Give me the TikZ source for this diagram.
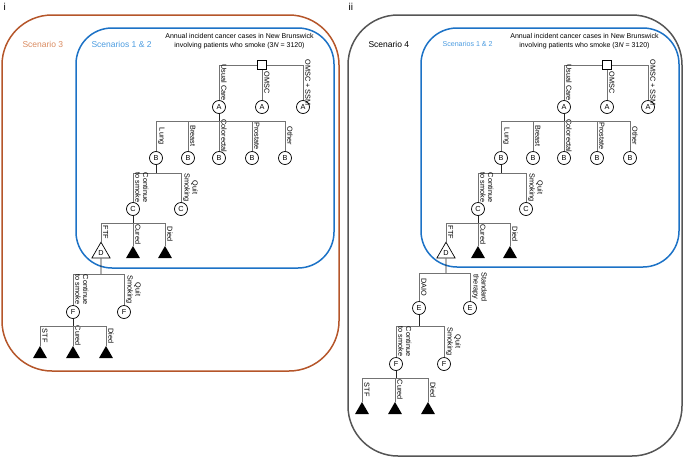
\documentclass[tikz,border=0pt]{standalone}
\usepackage{fontspec}
\setmainfont{Liberation Sans}
\usetikzlibrary{shapes.geometric}
\definecolor{scenthree}{HTML}{B5562A}
\definecolor{scenthreetext}{HTML}{D98A5F}
\definecolor{scenone}{HTML}{1C72C6}
\definecolor{scenonetext}{HTML}{4A9BE0}
\definecolor{scenfour}{HTML}{555555}
\begin{document}
\begin{tikzpicture}[x=1pt, y=-1pt,
    chance/.style={circle, draw, line width=0.7pt, fill=white, inner sep=0pt, minimum size=13pt, font=\fontsize{7.3}{8}\selectfont},
    decision/.style={rectangle, draw, line width=0.8pt, fill=white, inner sep=0pt, minimum size=9pt},
    terminal/.style={regular polygon, regular polygon sides=3, fill=black, inner sep=0pt, minimum size=16pt},
    markov/.style={regular polygon, regular polygon sides=3, draw, line width=0.7pt, fill=white, inner sep=0pt, minimum size=21pt, font=\fontsize{7.3}{8}\selectfont},
    lbl/.style={rotate=-90, anchor=south, align=center, inner xsep=1pt, inner ysep=2pt, font=\fontsize{7.3}{7.8}\selectfont},
    branch/.style={draw=black!55, line width=0.6pt},
    stem/.style={draw=black!85, line width=0.6pt},
    panel/.style={rounded corners=50pt, line width=1.5pt}]
    \useasboundingbox (0,0) rectangle (685,458);
    % panel frames
    \draw[panel, scenthree] (2,15) rectangle (339,371);
    \draw[panel, scenfour] (348,15) rectangle (682,456);
    \draw[panel, scenone, rounded corners=36pt] (76,28) rectangle (334,268);
    \draw[panel, scenone, rounded corners=36pt] (421,28) rectangle (679,267);
    \node[anchor=west, font=\fontsize{10}{10}\selectfont] (labi) at (0,7) {i};
    \node[anchor=west, font=\fontsize{10}{10}\selectfont] (labii) at (345,7) {ii};
    \node[anchor=west, scenthreetext, font=\fontsize{8.5}{9}\selectfont] (sc3) at (19,44) {Scenario 3};
    \node[anchor=west, font=\fontsize{8.5}{9}\selectfont] (sc4) at (365,44) {Scenario 4};
    \node[anchor=west, scenonetext, font=\fontsize{8.5}{9}\selectfont] (sc12i) at (88,44) {Scenarios 1 \& 2};
    \node[anchor=west, scenonetext, font=\fontsize{7.1}{8}\selectfont] (sc12ii) at (439,44) {Scenarios 1 \& 2};
    % common tree of scenarios 1 & 2
    \foreach \p/\dx in {i/0, ii/345} {
    \begin{scope}[xshift=\dx]
        \node[align=center, font=\fontsize{7}{9}\selectfont] (title\p) at (239.5,41.5)
            {Annual incident cancer cases in New Brunswick\\involving patients who smoke (3\textit{N} = 3120)};
        \node[decision] (S\p) at (262,65) {};
        \node[chance] (A1\p) at (219,107) {A};
        \node[chance] (A2\p) at (262,107) {A};
        \node[chance] (A3\p) at (303,107) {A};
        \draw[branch] (S\p.west) -| (A1\p.north);
        \draw[branch] (S\p.south) -- (A2\p.north);
        \draw[branch] (S\p.east) -| (A3\p.north);
        \path (A1\p.north) -- (A1\p |- S\p) node[lbl, midway] {Usual Care};
        \path (A2\p.north) -- (A2\p |- S\p) node[lbl, midway] {OMSC};
        \path (A3\p.north) -- (A3\p |- S\p) node[lbl, midway] {OMSC + SSM};
        % cancer sites
        \coordinate (bB\p) at (0,121);
        \foreach \k/\x in {1/156, 2/188, 3/219, 4/252, 5/285}
            \node[chance] (B\k\p) at (\x,158) {B};
        \draw[stem] (A1\p.south) -- (A1\p |- bB\p);
        \foreach \k/\t in {1/Lung, 2/Breast, 3/Colorectal, 4/Prostate, 5/Other} {
            \draw[branch] (A1\p |- bB\p) -| (B\k\p.north);
            \path (B\k\p.north) -- (B\k\p |- bB\p) node[lbl, midway] {\t};
        }
        % smoking status
        \coordinate (bC\p) at (0,173);
        \node[chance] (C1\p) at (133,209) {C};
        \node[chance] (C2\p) at (181,209) {C};
        \draw[stem] (B1\p.south) -- (B1\p |- bC\p);
        \draw[branch] (B1\p |- bC\p) -| (C1\p.north);
        \draw[branch] (B1\p |- bC\p) -| (C2\p.north);
        \path (C1\p.north) -- (C1\p |- bC\p) node[lbl, midway] {Continue\\to smoke};
        \path (C2\p.north) -- (C2\p |- bC\p) node[lbl, midway] {Quit\\Smoking};
        % treatment outcome
        \coordinate (bD\p) at (0,223);
        \node[markov] (D\p) at (101,252.7) {D};
        \node[terminal] (TC\p) at (133,254) {};
        \node[terminal] (TD\p) at (165,254) {};
        \draw[stem] (C1\p.south) -- (C1\p |- bD\p);
        \draw[branch] (C1\p |- bD\p) -| (D\p.north);
        \draw[branch] (C1\p |- bD\p) -| (TC\p.north);
        \draw[branch] (C1\p |- bD\p) -| (TD\p.north);
        \path (D\p.north) -- (D\p |- bD\p) node[lbl, midway] {FTF};
        \path (TC\p.north) -- (TC\p |- bD\p) node[lbl, midway] {Cured};
        \path (TD\p.north) -- (TD\p |- bD\p) node[lbl, midway] {Died};
    \end{scope}
    }
    % scenario 3
    \coordinate (bF) at (0,274);
    \node[chance] (F1) at (73,312) {F};
    \node[chance] (F2) at (124,312) {F};
    \draw[stem] (Di.south) -- (Di |- bF);
    \draw[branch] (Di |- bF) -| (F1.north);
    \draw[branch] (Di |- bF) -| (F2.north);
    \path (F1.north) -- (F1 |- bF) node[lbl, midway] {Continue\\to smoke};
    \path (F2.north) -- (F2 |- bF) node[lbl, midway] {Quit\\Smoking};
    \coordinate (bT) at (0,326);
    \node[terminal] (T1) at (40,354) {};
    \node[terminal] (T2) at (73,354) {};
    \node[terminal] (T3) at (106,354) {};
    \draw[stem] (F1.south) -- (F1 |- bT);
    \foreach \k/\t in {1/STF, 2/Cured, 3/Died} {
        \draw[branch] (F1 |- bT) -| (T\k.north);
        \path (T\k.north) -- (T\k |- bT) node[lbl, midway] {\t};
    }
    % scenario 4
    \coordinate (bE4) at (0,273);
    \node[chance] (E1) at (419,308) {E};
    \node[chance] (E2) at (470,308) {E};
    \draw[stem] (Dii.south) -- (Dii |- bE4);
    \draw[branch] (Dii |- bE4) -| (E1.north);
    \draw[branch] (Dii |- bE4) -| (E2.north);
    \path (E1.north) -- (E1 |- bE4) node[lbl, midway] {DAIO};
    \path (E2.north) -- (E2 |- bE4) node[lbl, midway] {Standard\\therapy};
    \coordinate (bF4) at (0,326);
    \node[chance] (F41) at (396,364) {F};
    \node[chance] (F42) at (444,364) {F};
    \draw[stem] (E1.south) -- (E1 |- bF4);
    \draw[branch] (E1 |- bF4) -| (F41.north);
    \draw[branch] (E1 |- bF4) -| (F42.north);
    \path (F41.north) -- (F41 |- bF4) node[lbl, midway] {Continue\\to smoke};
    \path (F42.north) -- (F42 |- bF4) node[lbl, midway] {Quit\\Smoking};
    \coordinate (bT4) at (0,378);
    \node[terminal] (T41) at (362,410) {};
    \node[terminal] (T42) at (395,410) {};
    \node[terminal] (T43) at (428,410) {};
    \draw[stem] (F41.south) -- (F41 |- bT4);
    \foreach \k/\t in {1/STF, 2/Cured, 3/Died} {
        \draw[branch] (F41 |- bT4) -| (T4\k.north);
        \path (T4\k.north) -- (T4\k |- bT4) node[lbl, midway] {\t};
    }
\end{tikzpicture}
\end{document}
